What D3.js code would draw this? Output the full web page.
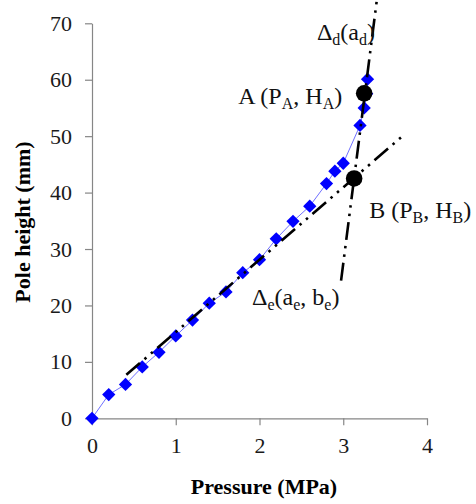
<!DOCTYPE html>
<html>
<head>
<meta charset="utf-8">
<script src="https://cdn.jsdelivr.net/npm/d3@7"></script>
<style>
  body { margin: 0; background: #fff; }
  svg { display: block; }
</style>
</head>
<body>
<svg id="chart" width="476" height="504"></svg>
<script>
// Measured pole height against applied pressure
const pressure   = [0, 0.2, 0.4, 0.6, 0.8, 1.0, 1.2, 1.4, 1.6, 1.8, 2.0, 2.2, 2.4, 2.6, 2.8, 2.9, 3.0, 3.2, 3.25, 3.28, 3.29];
const poleHeight = [0, 4.2, 6.0, 9.1, 11.7, 14.6, 17.4, 20.4, 22.4, 25.8, 28.1, 31.8, 34.9, 37.6, 41.6, 43.8, 45.2, 51.9, 55.0, 57.5, 60.1];

// Axis ticks
const xTicks = [0, 1, 2, 3, 4];
const yTicks = [0, 10, 20, 30, 40, 50, 60, 70];

// Fitted straight lines (pressure, height) end points
const lineE = [[0.41, 7.7], [3.73, 50.3]];
const lineD = [[2.974, 24.4], [3.40, 74.0]];

// Characteristic points
const pointA = [3.25, 57.6];
const pointB = [3.13, 42.5];

const svg = d3.select('#chart');
const serif = '"Liberation Serif", "Times New Roman", serif';

const x = d3.scaleLinear().domain([0, 4]).range([92, 427]);
const y = d3.scaleLinear().domain([0, 70]).range([418.3, 23.3]);

// Axes
const axisColor = '#868686';
const gx = svg.append('g')
  .attr('transform', `translate(0,${y(0)})`)
  .call(d3.axisBottom(x).tickValues(xTicks).tickFormat(d3.format('d'))
    .tickSize(7).tickSizeOuter(0).tickPadding(12));
const gy = svg.append('g')
  .attr('transform', `translate(${x(0)},0)`)
  .call(d3.axisLeft(y).tickValues(yTicks).tickFormat(d3.format('d'))
    .tickSize(7).tickSizeOuter(0).tickPadding(13));
[gx, gy].forEach(g => {
  g.selectAll('path.domain, line').attr('stroke', axisColor).attr('stroke-width', 1.2);
  g.selectAll('text').attr('font-family', serif).attr('font-size', 22).attr('fill', '#1a1a1a');
});

// Axis titles
svg.append('text')
  .attr('x', 264).attr('y', 494)
  .attr('text-anchor', 'middle')
  .attr('font-family', serif).attr('font-weight', 'bold').attr('font-size', 22)
  .text('Pressure (MPa)');
svg.append('text')
  .attr('transform', 'translate(30,222) rotate(-90)')
  .attr('text-anchor', 'middle')
  .attr('font-family', serif).attr('font-weight', 'bold').attr('font-size', 22)
  .text('Pole height (mm)');

// Measured series
const series = pressure.map((p, i) => [p, poleHeight[i]]);
const line = d3.line().x(d => x(d[0])).y(d => y(d[1]));
svg.append('path')
  .datum(series)
  .attr('d', line)
  .attr('fill', 'none')
  .attr('stroke', '#6f6fff')
  .attr('stroke-width', 1);
svg.append('g')
  .selectAll('path')
  .data(series)
  .join('path')
  .attr('d', d3.symbol(d3.symbolSquare, 88)())
  .attr('transform', d => `translate(${x(d[0])},${y(d[1])}) rotate(45)`)
  .attr('fill', '#0000ff');

// Fitted lines, long dash - dot - dot
[lineE, lineD].forEach(seg => {
  svg.append('path')
    .datum(seg)
    .attr('d', line)
    .attr('fill', 'none')
    .attr('stroke', '#000')
    .attr('stroke-width', 2.6)
    .attr('stroke-dasharray', '18,6,2.5,6,2.5,6');
});

// Characteristic points
svg.append('g')
  .selectAll('circle')
  .data([pointA, pointB])
  .join('circle')
  .attr('cx', d => x(d[0]))
  .attr('cy', d => y(d[1]))
  .attr('r', 8.3)
  .attr('fill', '#000');

// Labels with subscripts: parts are [text, isSubscript]
function label(px, py, anchor, parts) {
  const t = svg.append('text')
    .attr('x', px).attr('y', py)
    .attr('text-anchor', anchor)
    .attr('font-family', serif)
    .attr('font-size', 24)
    .attr('fill', '#111');
  let shifted = false;
  parts.forEach(([s, sub]) => {
    const ts = t.append('tspan').text(s);
    if (sub) {
      ts.attr('font-size', 16);
      if (!shifted) { ts.attr('dy', 5); shifted = true; }
    } else if (shifted) {
      ts.attr('dy', -5); shifted = false;
    }
  });
}

label(x(pointA[0]) - 22, y(pointA[1]) + 11, 'end',
  [['A (P', false], ['A', true], [', H', false], ['A', true], [')', false]]);
label(x(pointB[0]) + 15, y(pointB[1]) + 40, 'start',
  [['B (P', false], ['B', true], [', H', false], ['B', true], [')', false]]);
label(375, 40, 'end',
  [['\u0394', false], ['d', true], ['(a', false], ['d', true], [')', false]]);
label(252, 305, 'start',
  [['\u0394', false], ['e', true], ['(a', false], ['e', true], [', b', false], ['e', true], [')', false]]);
</script>
</body>
</html>
